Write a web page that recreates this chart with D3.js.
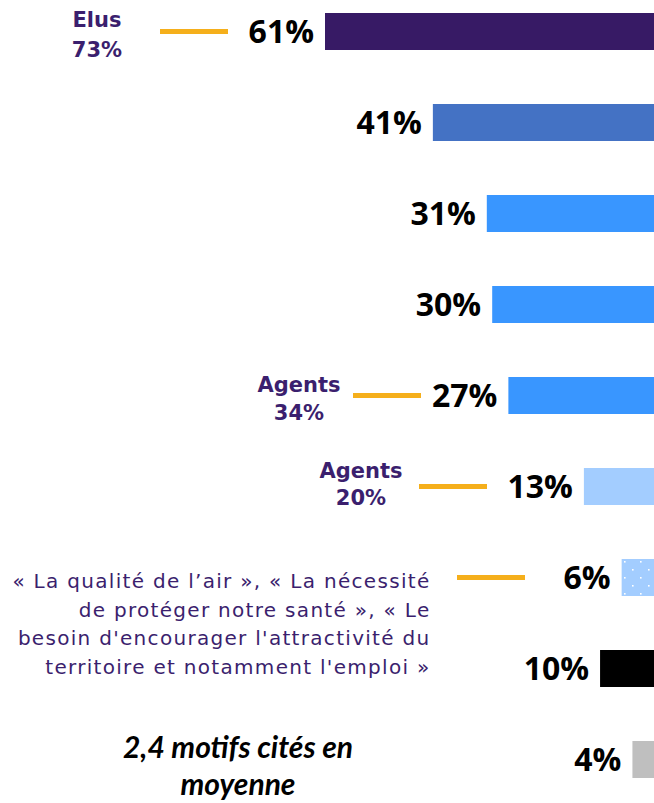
<!DOCTYPE html>
<html>
<head>
<meta charset="utf-8">
<script src="https://cdn.jsdelivr.net/npm/d3@7"></script>
<style>
  html, body { margin: 0; padding: 0; background: #fff; }
  svg { display: block; }
</style>
</head>
<body>
<div id="chart"></div>
<script>
// ---- data ----
const categories = ["Motif 1", "Motif 2", "Motif 3", "Motif 4", "Motif 5", "Motif 6", "Motif 7", "Autre", "Ne sait pas"];
const values = [61, 41, 31, 30, 27, 13, 6, 10, 4];
const valueLabels = ["61%", "41%", "31%", "30%", "27%", "13%", "6%", "10%", "4%"];
const barColors = ["#371A65", "#4472C4", "#3996FF", "#3996FF", "#3996FF", "#A3CDFF", "dots", "#000000", "#BFBFBF"];
const calloutElus = ["Elus", "73%"];
const calloutAgents34 = ["Agents", "34%"];
const calloutAgents20 = ["Agents", "20%"];
const quoteLines = ["« La qualité de l’air », « La nécessité", "de protéger notre santé », « Le", "besoin d'encourager l'attractivité du", "territoire et notamment l'emploi »"];
const averageLines = ["2,4 motifs cités en", "moyenne"];

// ---- layout ----
const W = 654, H = 803;
const purple = "#3B1F6E", orange = "#F5AF1B";

const svg = d3.select("#chart").append("svg").attr("width", W).attr("height", H);

const defs = svg.append("defs");
const pat = defs.append("pattern").attr("id", "dots")
  .attr("patternUnits", "userSpaceOnUse").attr("width", 16).attr("height", 16)
  .attr("x", 624).attr("y", 561);
pat.append("rect").attr("width", 16).attr("height", 16).attr("fill", "#A3CDFF");
pat.append("rect").attr("x", 0).attr("y", 0).attr("width", 1.6).attr("height", 1.6).attr("fill", "#fff");
pat.append("rect").attr("x", 8).attr("y", 8).attr("width", 1.6).attr("height", 1.6).attr("fill", "#fff");

const y = d3.scaleBand().domain(categories).range([-14, 805])
  .paddingInner(1 - 37 / 91).paddingOuter((1 - 37 / 91) / 2);
const x = d3.scaleLinear().domain([0, 61]).range([W, 325]);

const rows = categories.map((c, i) => ({ c, v: values[i], label: valueLabels[i], color: barColors[i] }));

svg.append("g").selectAll("rect").data(rows).join("rect")
  .attr("x", d => x(d.v))
  .attr("y", d => y(d.c))
  .attr("width", d => W - x(d.v))
  .attr("height", y.bandwidth())
  .attr("fill", d => d.color === "dots" ? "url(#dots)" : d.color);

svg.append("g").selectAll("text").data(rows).join("text")
  .attr("x", d => x(d.v) - 11)
  .attr("y", d => y(d.c) + y.bandwidth() / 2 + 11.5)
  .attr("text-anchor", "end")
  .attr("font-family", "'Open Sans', sans-serif")
  .attr("font-weight", 700)
  .attr("font-size", 32)
  .attr("fill", "#000")
  .text(d => d.label);

// callout lines
function hline(x1, x2, yy) {
  svg.append("line").attr("x1", x1).attr("x2", x2).attr("y1", yy).attr("y2", yy)
    .attr("stroke", orange).attr("stroke-width", 5);
}
function callout(lines, cx, baselines) {
  const t = svg.append("text").attr("text-anchor", "middle")
    .attr("font-family", "'DejaVu Sans', sans-serif").attr("font-weight", 700)
    .attr("font-size", 21).attr("fill", purple);
  lines.forEach((s, i) => t.append("tspan").attr("x", cx).attr("y", baselines[i]).text(s));
}
const yc = c => y(c) + y.bandwidth() / 2;

callout(calloutElus, 97, [27, 57]);
hline(160, 228, yc(categories[0]));
callout(calloutAgents34, 299, [392, 420]);
hline(353, 421, yc(categories[4]));
callout(calloutAgents20, 361, [478, 505]);
hline(419, 487, yc(categories[5]));

const q = svg.append("text").attr("text-anchor", "end")
  .attr("font-family", "'DejaVu Sans', sans-serif").attr("font-size", 20)
  .attr("letter-spacing", 1.3)
  .attr("fill", purple);
[588, 616.5, 645, 673.5].forEach((b, i) => q.append("tspan").attr("x", 430.5).attr("y", b).text(quoteLines[i]));
hline(457, 525, yc(categories[6]));

const a = svg.append("text").attr("text-anchor", "middle")
  .attr("font-family", "Lato, sans-serif").attr("font-weight", 700).attr("font-style", "italic")
  .attr("font-size", 30).attr("fill", "#000");
[758, 795].forEach((b, i) => a.append("tspan").attr("x", 238).attr("y", b).text(averageLines[i]));
</script>
</body>
</html>
